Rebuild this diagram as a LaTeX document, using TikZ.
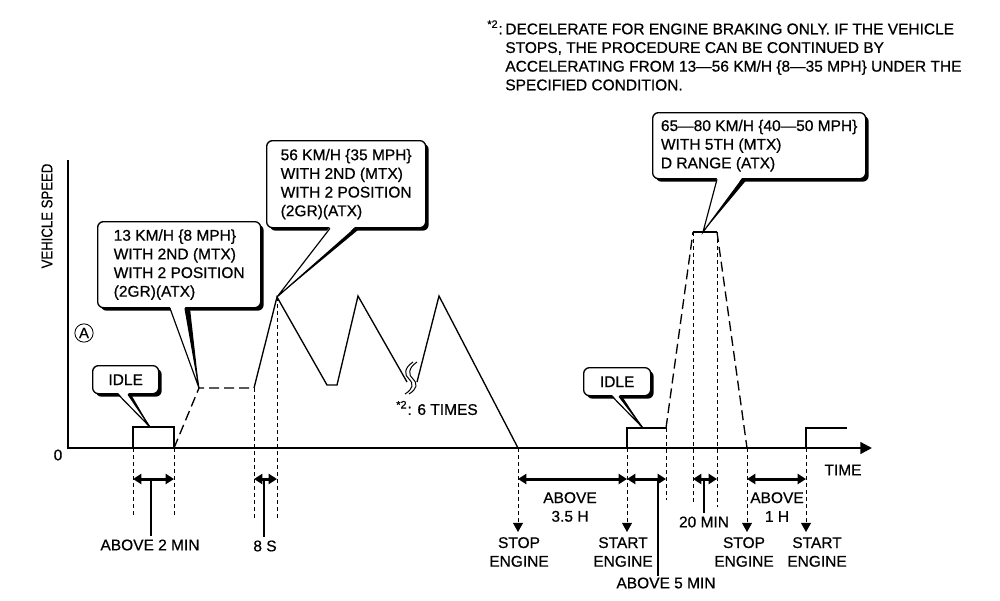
\documentclass[tikz,border=0pt]{standalone}
\usepackage{fontspec}
\setmainfont{Liberation Sans}[FakeBold = 0.6]
\usetikzlibrary{arrows.meta,calc,shadows}

\tikzset{
	axisline/.style = {line width = 1.4pt},
	speedline/.style = {line width = 0.8pt},
	speeddash/.style = {line width = 0.8pt, dash pattern = on 6pt off 3pt},
	guideline/.style = {line width = 0.6pt, dash pattern = on 2.4pt off 1.8pt},
	spanarrow/.style = {line width = 1.8pt, {Triangle[length=5pt,width=6pt]}-{Triangle[length=5pt,width=6pt]}},
	stemline/.style = {line width = 0.9pt},
	enginearrow/.style = {guideline, -{Triangle[length=5.5pt,width=6pt]}},
	callbox/.style = {draw, line width = 0.8pt, rounded corners = 3.5pt, fill = white, align = left, inner sep = 0pt,
		drop shadow = {shadow xshift = 1.8pt, shadow yshift = -1.8pt, fill = black, opacity = 1}},
	lbl/.style = {align = center, inner sep = 0pt},
}

\begin{document}
\begin{tikzpicture}[x = 0.6pt, y = -0.6pt, font = \fontsize{9.3}{11.2}\selectfont]
	\useasboundingbox (0, 0) rectangle (1000, 600);

	% axes
	\coordinate (origin) at (68, 448);
	\coordinate (ytop) at (68, 160);
	\coordinate (xend) at (872, 448);
	\draw [axisline, -{Triangle[length=7pt,width=7pt]}] (ytop) -- (origin) -- (xend);
	\node [rotate = 90, xscale = 0.85] (yname) at (47, 216) {VEHICLE SPEED};
	\node (zero) at (58, 455) {0};
	\node (tname) at (843, 470) {TIME};
	\node [circle, draw, line width = 0.5pt, inner sep = 0pt, minimum size = 11pt, font = \fontsize{9}{10}\selectfont] (markA) at (84, 333) {A};

	% speed profile
	\coordinate (p0) at (133, 448);
	\coordinate (p1) at (133, 427);
	\coordinate (p2) at (174, 427);
	\coordinate (p3) at (174, 448);
	\coordinate (p4) at (199, 388);
	\coordinate (p5) at (254, 388);
	\coordinate (p6) at (277, 297);
	\coordinate (p7) at (327, 385);
	\coordinate (p8) at (337, 385);
	\coordinate (p9) at (358, 296);
	\coordinate (p10) at (407, 382);
	\coordinate (p11) at (417, 382);
	\coordinate (p12) at (439, 296);
	\coordinate (p13) at (518, 448);
	\coordinate (q0) at (627, 448);
	\coordinate (q1) at (627, 428);
	\coordinate (q2) at (666, 428);
	\coordinate (q3) at (693, 232);
	\coordinate (q4) at (717, 232);
	\coordinate (q5) at (747, 448);
	\coordinate (r0) at (806, 448);
	\coordinate (r1) at (806, 428);
	\coordinate (r2) at (847, 428);
	\coordinate (t1) at (150, 427);
	\coordinate (t2) at (643, 428);
	\coordinate (t3) at (703, 232);

	\draw [speedline] (p0) -- (p1) -- (p2) -- (p3);
	\draw [speeddash] (p3) -- (p4) -- (p5);
	\draw [speedline] (p5) -- (p6) -- (p7) -- (p8) -- (p9) -- (p10);
	\draw [speedline] (p11) -- (p12) -- (p13);
	\draw [speedline] (q0) -- (q1) -- (q2);
	\draw [speeddash] (q2) -- (q3);
	\draw [speedline] (q3) -- (q4);
	\draw [speeddash] (q4) -- (q5);
	\draw [speedline] (r0) -- (r1) -- (r2);
	\foreach \dx in {0, 4}
		\draw [line width = 0.6pt, xshift = \dx * 0.6pt] (413, 362) .. controls (404, 368) and (404, 375) .. (409, 379) .. controls (414, 384) and (413, 389) .. (405, 394);
	\node (times) at (437, 408) {\textsuperscript{*2}: 6 TIMES};

	% guides and spans
	\foreach \pt/\yy in {p0/515, p3/515, p5/518, p6/518, q2/500, q3/503, q4/507}
		\draw [guideline] (\pt) -- (\pt |- 0, \yy);
	\foreach \pt in {p13, q0, q5, r0}
		\draw [enginearrow] (\pt) -- (\pt |- 0, 532);
	\foreach \pa/\pb in {p0/p3, p5/p6, p13/q0, q0/q2, q3/q4, q5/r0}
		\draw [spanarrow] (\pa |- 0, 479) -- (\pb |- 0, 479);

	\node [lbl] (lbl2min) at (150, 545) {ABOVE 2 MIN};
	\node [lbl] (lbl8s) at (265, 546) {8 S};
	\node [lbl] (lbl35h) at (570, 507) {ABOVE\\3.5 H};
	\node [lbl] (lbl5min) at (666, 583) {ABOVE 5 MIN};
	\node [lbl] (lbl20min) at (704, 522) {20 MIN};
	\node [lbl] (lbl1h) at (777, 507) {ABOVE\\1 H};
	\node [lbl] (stop1) at (519, 552) {STOP\\ENGINE};
	\node [lbl] (start1) at (623, 552) {START\\ENGINE};
	\node [lbl] (stop2) at (744, 552) {STOP\\ENGINE};
	\node [lbl] (start2) at (817, 552) {START\\ENGINE};
	\draw [stemline] ([yshift = 2pt] lbl2min.north -| p0) ++(18, 0) coordinate (s1) -- (s1 |- 0, 479);
	\draw [stemline] ([yshift = 2pt] lbl8s.north) ++(-1, 0) coordinate (s2) -- (s2 |- 0, 479);
	\draw [stemline] ([yshift = 1pt] lbl5min.north) ++(-8, 0) coordinate (s3) -- (s3 |- 0, 479);
	\draw [stemline] ([yshift = 2pt] lbl20min.north) coordinate (s4) -- (s4 |- 0, 479);

	% callouts
	\node [callbox, minimum width = 97.8pt, minimum height = 51.6pt, anchor = north west] (c13) at (97, 221)
		{13 KM/H \{8 MPH\}\\WITH 2ND (MTX)\\WITH 2 POSITION\\(2GR)(ATX)};
	\node [callbox, minimum width = 95.4pt, minimum height = 52.2pt, anchor = north west] (c56) at (266, 140)
		{56 KM/H \{35 MPH\}\\WITH 2ND (MTX)\\WITH 2 POSITION\\(2GR)(ATX)};
	\node [callbox, minimum width = 127.8pt, minimum height = 39.6pt, anchor = north west] (c65) at (652, 112)
		{65—80 KM/H \{40—50 MPH\}\\WITH 5TH (MTX)\\D RANGE (ATX)};
	\node [callbox, align = center, minimum width = 39.6pt, minimum height = 16.8pt, anchor = north west] (idle1) at (92, 365) {IDLE};
	\node [callbox, align = center, minimum width = 40.2pt, minimum height = 16.8pt, anchor = north west] (idle2) at (583, 367) {IDLE};
	\foreach \nd/\xa/\xb/\wg/\tp in {c13/73/88/5/p4, c56/64/89/5/p6, c65/65/90/5/t3, idle1/26/36/3/t1, idle2/29/36/3/t2} {
		\fill [white] ($(\nd.south west) + (\xa, -1.5)$) -- (\tp) -- ($(\nd.south west) + (\xb, -1.5)$) -- cycle;
		\fill ($(\nd.south west) + (\xb, 0)$) -- (\tp) -- ($(\nd.south west) + (\xb + \wg, 0)$) -- cycle;
		\draw [line width = 0.7pt] ($(\nd.south west) + (\xa, 0)$) -- (\tp) -- ($(\nd.south west) + (\xb, 0)$);
	}

	% note
	\node [anchor = north west, inner sep = 0pt, align = left] (note) at (505, 20)
		{\llap{\textsuperscript{*2}:\,}DECELERATE FOR ENGINE BRAKING ONLY. IF THE VEHICLE\\STOPS, THE PROCEDURE CAN BE CONTINUED BY\\ACCELERATING FROM 13—56 KM/H \{8—35 MPH\} UNDER THE\\SPECIFIED CONDITION.};
\end{tikzpicture}
\end{document}
